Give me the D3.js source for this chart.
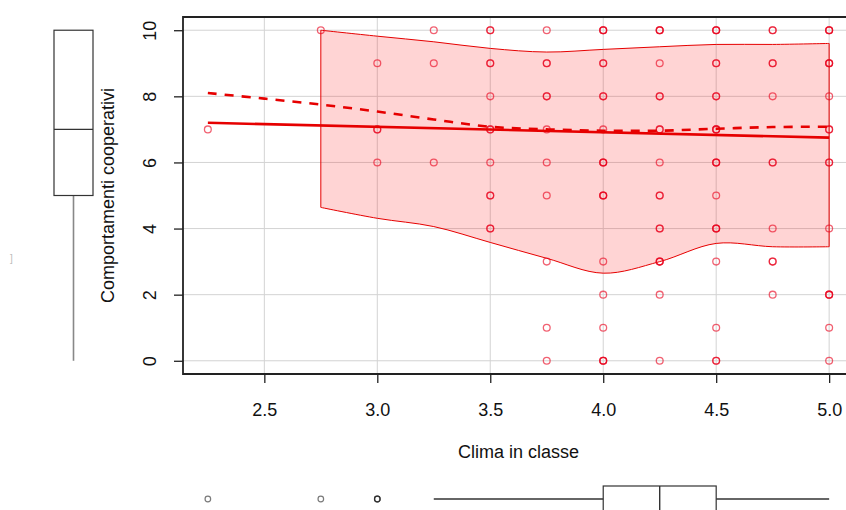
<!DOCTYPE html>
<html>
<head>
<meta charset="utf-8">
<script src="https://cdn.jsdelivr.net/npm/d3@7"></script>
<style>
  body { margin: 0; background: #fff; }
  svg { display: block; font-family: "Liberation Sans", Arial, sans-serif; }
</style>
</head>
<body>
<svg id="chart" width="846" height="510"></svg>
<script>
// climate levels (x) and the cooperative-behaviour scores observed at each (y)
const climaLevels = [2.25, 2.75, 3.0, 3.25, 3.5, 3.75, 4.0, 4.25, 4.5, 4.75, 5.0];
const coopScores = [
  [7],
  [10],
  [9, 7, 6],
  [10, 9, 6],
  [10, 9, 8, 7, 6, 5, 4],
  [10, 9, 8, 7, 6, 5, 3, 1, 0],
  [10, 9, 8, 7, 6, 5, 3, 2, 1, 0],
  [10, 9, 8, 7, 6, 5, 4, 3, 2, 0],
  [10, 9, 8, 7, 6, 5, 4, 3, 1, 0],
  [10, 9, 8, 6, 4, 3, 2],
  [10, 9, 8, 7, 6, 4, 2, 1, 0]
];
// how many students share each point (overplotting)
const coopCounts = [
  [1],
  [1],
  [1, 2, 1],
  [1, 1, 1],
  [2, 2, 1, 2, 1, 2, 2],
  [1, 2, 2, 1, 1, 1, 1, 1, 1],
  [3, 2, 2, 1, 3, 3, 1, 1, 1, 3],
  [3, 1, 2, 2, 1, 2, 2, 3, 1, 1],
  [3, 2, 2, 3, 3, 1, 3, 1, 1, 2],
  [2, 2, 1, 2, 1, 2, 1],
  [3, 3, 1, 2, 2, 1, 3, 1, 1]
];

// linear fit
const fitX = [2.25, 5.0];
const fitY = [7.2, 6.75];

// smoother (dashed)
const smoothX = [2.25, 2.5, 2.75, 3.0, 3.25, 3.5, 3.75, 4.0, 4.25, 4.5, 4.75, 5.0];
const smoothY = [8.1, 7.93, 7.75, 7.54, 7.3, 7.08, 7.0, 6.96, 6.96, 7.02, 7.07, 7.08];

// spread band
const bandX = [2.75, 3.0, 3.25, 3.5, 3.75, 4.0, 4.25, 4.5, 4.75, 5.0];
const bandUpper = [10.0, 9.82, 9.65, 9.45, 9.34, 9.42, 9.5, 9.57, 9.57, 9.6];
const bandLower = [4.64, 4.31, 4.06, 3.58, 3.1, 2.65, 3.0, 3.55, 3.45, 3.45];

// marginal boxplots: [min, q1, median, q3, max]
const coopBox = [0, 5, 7, 10, 10];
const climaBox = [3.25, 4.0, 4.25, 4.5, 5.0];
const climaOutliers = [2.25, 2.75, 3.0];
const climaOutlierCounts = [1, 1, 3];

const xTicks = [2.5, 3.0, 3.5, 4.0, 4.5, 5.0];
const yTicks = [0, 2, 4, 6, 8, 10];

const svg = d3.select("#chart");
const pLeft = 183, pRight = 854, pTop = 17, pBottom = 374;

const x = d3.scaleLinear().domain([2.14, 5.11]).range([pLeft, pRight]);
const y = d3.scaleLinear().domain([-0.4, 10.4]).range([pBottom, pTop]);

const red = "#e60000";
const fs = 18;

// grid
const grid = svg.append("g").attr("stroke", "#d3d3d3").attr("stroke-width", 1);
grid.selectAll("line.gx").data(xTicks).enter().append("line")
  .attr("x1", d => x(d)).attr("x2", d => x(d))
  .attr("y1", pTop).attr("y2", pBottom);
grid.selectAll("line.gy").data(yTicks).enter().append("line")
  .attr("x1", pLeft).attr("x2", pRight)
  .attr("y1", d => y(d)).attr("y2", d => y(d));

// spread band
const band = bandX.map((v, i) => ({ x: v, lo: bandLower[i], hi: bandUpper[i] }));
svg.append("path")
  .datum(band)
  .attr("d", d3.area()
    .x(d => x(d.x)).y0(d => y(d.lo)).y1(d => y(d.hi))
    .curve(d3.curveCatmullRom.alpha(0.5)))
  .attr("fill", "rgba(255,0,0,0.17)")
  .attr("stroke", red)
  .attr("stroke-width", 1);

// points
const pts = [];
climaLevels.forEach((cx, i) => {
  coopScores[i].forEach((cy, j) => {
    for (let k = 0; k < coopCounts[i][j]; k++) pts.push({ x: cx, y: cy });
  });
});
svg.append("g").selectAll("circle").data(pts).enter().append("circle")
  .attr("cx", d => x(d.x)).attr("cy", d => y(d.y)).attr("r", 3.4)
  .attr("fill", "none")
  .attr("stroke", "#e8001c")
  .attr("stroke-opacity", 0.62)
  .attr("stroke-width", 1.3);

// linear fit
const line = d3.line().x(d => x(d[0])).y(d => y(d[1]));
svg.append("path")
  .datum(fitX.map((v, i) => [v, fitY[i]]))
  .attr("d", line)
  .attr("fill", "none").attr("stroke", red).attr("stroke-width", 2.6);

// smoother
svg.append("path")
  .datum(smoothX.map((v, i) => [v, smoothY[i]]))
  .attr("d", line.curve(d3.curveCatmullRom))
  .attr("fill", "none").attr("stroke", red).attr("stroke-width", 2.6)
  .attr("stroke-dasharray", "9,8");

// frame
svg.append("path")
  .attr("d", `M${pRight},${pTop}H${pLeft}V${pBottom}H${pRight}`)
  .attr("fill", "none").attr("stroke", "#222").attr("stroke-width", 1.8);

// x axis
const xAxis = svg.append("g")
  .attr("transform", `translate(0,${pBottom})`)
  .call(d3.axisBottom(x).tickValues(xTicks).tickFormat(d3.format(".1f"))
    .tickSize(9).tickPadding(20));
xAxis.select(".domain").remove();
xAxis.selectAll("line").attr("stroke", "#222").attr("stroke-width", 1.3);
xAxis.selectAll("text").attr("font-size", fs).attr("fill", "#111")
  .attr("font-family", "Liberation Sans, Arial, sans-serif");

// y axis
const yAxis = svg.append("g")
  .attr("transform", `translate(${pLeft},0)`)
  .call(d3.axisLeft(y).tickValues(yTicks).tickSize(9));
yAxis.select(".domain").remove();
yAxis.selectAll("line").attr("stroke", "#222").attr("stroke-width", 1.3);
yAxis.selectAll("text")
  .attr("x", null).attr("dy", null)
  .attr("text-anchor", "middle")
  .attr("transform", "translate(-27,0) rotate(-90)")
  .attr("font-size", fs).attr("fill", "#111")
  .attr("font-family", "Liberation Sans, Arial, sans-serif");

// axis titles
svg.append("text")
  .attr("x", (pLeft + pRight) / 2).attr("y", 458)
  .attr("text-anchor", "middle").attr("font-size", fs).attr("fill", "#111")
  .text("Clima in classe");
svg.append("text")
  .attr("transform", `translate(114,${(pTop + pBottom) / 2}) rotate(-90)`)
  .attr("text-anchor", "middle").attr("font-size", fs).attr("fill", "#111")
  .text("Comportamenti cooperativi");

// left marginal boxplot
const bx0 = 54, bx1 = 93, bxm = 73.5;
svg.append("line")
  .attr("x1", bxm).attr("x2", bxm)
  .attr("y1", y(coopBox[0])).attr("y2", y(coopBox[1]))
  .attr("stroke", "#888").attr("stroke-width", 1.6);
svg.append("line")
  .attr("x1", bxm).attr("x2", bxm)
  .attr("y1", y(coopBox[3])).attr("y2", y(coopBox[4]))
  .attr("stroke", "#888").attr("stroke-width", 1.6);
svg.append("rect")
  .attr("x", bx0).attr("y", y(coopBox[3]))
  .attr("width", bx1 - bx0).attr("height", y(coopBox[1]) - y(coopBox[3]))
  .attr("fill", "none").attr("stroke", "#333").attr("stroke-width", 1.2);
svg.append("line")
  .attr("x1", bx0).attr("x2", bx1)
  .attr("y1", y(coopBox[2])).attr("y2", y(coopBox[2]))
  .attr("stroke", "#333").attr("stroke-width", 1.4);

// bottom marginal boxplot
const by0 = 486, by1 = 512, bym = 499;
svg.append("line")
  .attr("x1", x(climaBox[0])).attr("x2", x(climaBox[1]))
  .attr("y1", bym).attr("y2", bym)
  .attr("stroke", "#333").attr("stroke-width", 1.3);
svg.append("line")
  .attr("x1", x(climaBox[3])).attr("x2", x(climaBox[4]))
  .attr("y1", bym).attr("y2", bym)
  .attr("stroke", "#333").attr("stroke-width", 1.3);
svg.append("rect")
  .attr("x", x(climaBox[1])).attr("y", by0)
  .attr("width", x(climaBox[3]) - x(climaBox[1])).attr("height", by1 - by0)
  .attr("fill", "none").attr("stroke", "#333").attr("stroke-width", 1.2);
svg.append("line")
  .attr("x1", x(climaBox[2])).attr("x2", x(climaBox[2]))
  .attr("y1", by0).attr("y2", by1)
  .attr("stroke", "#333").attr("stroke-width", 1.4);
const outl = [];
climaOutliers.forEach((v, i) => { for (let k = 0; k < climaOutlierCounts[i]; k++) outl.push(v); });
svg.append("g").selectAll("circle").data(outl).enter().append("circle")
  .attr("cx", d => x(d)).attr("cy", bym).attr("r", 2.8)
  .attr("fill", "none").attr("stroke", "#222")
  .attr("stroke-opacity", 0.6).attr("stroke-width", 1.2);

// stray mark at far left
svg.append("text")
  .attr("x", 10).attr("y", 262).attr("font-size", 10).attr("fill", "#bbb")
  .text("]");
</script>
</body>
</html>
